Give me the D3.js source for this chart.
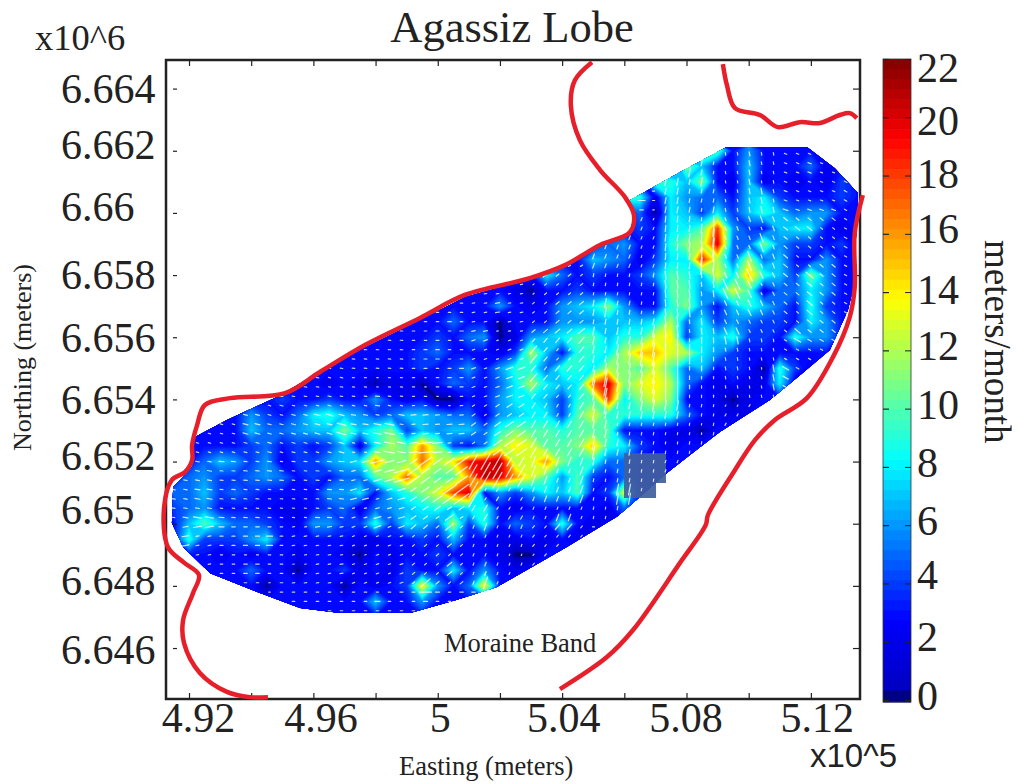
<!DOCTYPE html>
<html>
<head>
<meta charset="utf-8">
<script src="https://cdn.jsdelivr.net/npm/d3@7"></script>
<style>
  html, body { margin: 0; padding: 0; background: #fff; }
  svg { display: block; }
  text { font-family: "Liberation Serif", serif; fill: #222; }
</style>
</head>
<body>
<div id="chart"></div>
<script>
// easting / northing are kept in km, tick labels show them as x10^5 and x10^6 m
var eastTicks = [492, 494, 496, 498, 500, 502, 504, 506, 508, 510, 512];
var eastLabels = { 492: "4.92", 496: "4.96", 500: "5", 504: "5.04", 508: "5.08", 512: "5.12" };
var northTicks = [6664, 6662, 6660, 6658, 6656, 6654, 6652, 6650, 6648, 6646];
var northLabels = ["6.664", "6.662", "6.66", "6.658", "6.656", "6.654", "6.652", "6.65", "6.648", "6.646"];
var speedTicks = [0, 2, 4, 6, 8, 10, 12, 14, 16, 18, 20, 22];

// speed in meters/month, one row per 500 m of northing from 6662 km down, one column per 500 m of easting from 491.5 km
var speedRows = [
  [3,3,3,3,3,3,3,3,3,3,3,3,3,3,3,3,3,3,3,3,3,3,3,3,3,3,3,3,3,3,3,3,3,3,12,10,3,6,3,3,3,3,3,3,3],
  [3,3,3,3,3,3,3,3,3,3,3,3,3,3,3,3,3,3,3,3,3,3,3,3,3,3,3,3,3,3,3,3,3,11,7,3,3,7,3,3,3,5,2,3,3],
  [3,3,3,3,3,3,3,3,3,3,3,3,3,3,3,3,3,3,3,3,3,3,3,3,3,3,3,3,3,3,3,10,9,7,11,3,2,7,2,3,2,3,2,4,3],
  [3,3,3,3,3,3,3,3,3,3,3,3,3,3,3,3,3,3,3,3,3,3,3,3,3,3,3,3,3,10,9,2,8,6,5,5,3,7,8,4,3,3,3,4,3],
  [3,3,3,3,3,3,3,3,3,3,3,3,3,3,3,3,3,3,3,3,3,3,3,3,3,3,3,3,3,3,5,0,8,7,4,8,4,7,9,7,5,6,6,3,3],
  [3,3,3,3,3,3,3,3,3,3,3,3,3,3,3,3,3,3,3,3,3,3,3,3,3,3,3,3,3,3,4,3,8,8,10,18,6,4,3,7,8,8,3,2,3],
  [3,3,3,3,3,3,3,3,3,3,3,3,3,3,3,3,3,3,3,3,3,3,3,3,3,3,3,3,5,6,3,3,9,11,12,20,5,5,11,6,4,4,3,4,2],
  [3,3,3,3,3,3,3,3,3,3,3,3,3,3,3,3,3,3,3,3,3,3,3,3,3,3,3,7,6,5,2,4,8,8,19,12,5,12,5,7,3,3,6,3,3],
  [3,3,3,3,3,3,3,3,3,3,3,3,3,3,3,3,3,3,3,3,3,3,3,3,8,5,3,4,3,3,4,6,10,9,7,13,8,15,9,7,4,11,6,3,3],
  [3,3,3,3,3,3,3,3,3,3,3,3,3,3,3,3,3,3,3,3,3,3,2,0,3,3,4,3,3,3,3,3,10,10,6,8,13,10,2,5,5,8,6,3,3],
  [3,3,3,3,3,3,3,3,3,3,3,3,3,3,3,3,3,3,3,3,3,6,3,2,3,6,7,8,11,6,3,3,9,11,6,3,7,9,7,5,3,9,4,3,3],
  [3,3,3,3,3,3,3,3,3,3,3,3,3,3,3,3,3,3,5,3,3,0,3,3,3,6,6,6,7,7,7,8,12,5,8,4,6,5,4,4,3,8,6,3,3],
  [3,3,3,3,3,3,3,3,3,3,3,3,3,3,3,3,3,4,3,5,6,0,2,6,7,8,10,10,7,9,9,13,14,4,8,7,9,4,4,3,9,6,6,3,3],
  [3,3,3,3,3,3,3,3,3,3,3,3,3,3,3,3,4,5,3,3,3,2,4,12,7,3,9,9,8,12,15,15,13,12,8,6,4,3,3,3,3,3,3,3,3],
  [3,3,3,3,3,3,3,3,3,3,3,3,3,3,3,3,4,3,4,6,3,6,9,9,5,9,9,8,12,11,10,13,10,5,7,3,4,3,0,9,4,2,3,3,3],
  [3,3,3,3,3,3,3,3,3,3,2,3,2,0,2,2,0,3,5,4,3,5,8,12,8,7,8,17,20,11,13,14,12,5,3,2,3,2,2,8,2,3,3,3,3],
  [3,3,3,3,3,3,3,4,3,3,4,3,3,6,3,2,3,0,0,3,3,6,8,8,7,4,9,10,18,8,11,13,11,3,3,2,0,2,3,3,3,3,3,3,3],
  [3,3,3,3,3,6,4,3,5,8,9,7,6,4,5,7,7,6,5,5,2,6,7,8,8,4,10,13,9,9,9,9,9,5,3,2,2,2,3,3,3,3,3,3,3],
  [3,3,3,3,3,7,5,5,6,7,7,11,7,9,11,4,7,6,7,7,5,9,11,10,10,9,10,10,10,3,3,3,2,2,0,3,3,3,3,3,3,3,3,3,3],
  [3,3,3,3,3,4,5,3,4,3,4,7,2,8,12,10,16,11,4,3,5,12,14,13,10,10,11,15,9,8,4,3,2,3,3,3,3,3,3,3,3,3,3,3,3],
  [3,3,5,7,6,4,6,2,4,4,6,7,8,16,11,11,17,12,14,19,20,21,12,13,16,11,9,9,5,5,3,3,3,3,3,3,3,3,3,3,3,3,3,3,3],
  [3,5,6,4,4,5,6,5,3,4,3,5,5,10,12,17,12,10,10,16,21,20,16,13,10,6,10,4,3,5,3,3,3,3,3,3,3,3,3,3,3,3,3,3,3],
  [5,5,7,4,5,4,3,3,3,3,6,6,8,3,7,9,11,13,18,20,3,6,4,6,8,7,10,3,4,13,3,3,3,3,3,3,3,3,3,3,3,3,3,3,3],
  [4,5,6,3,3,3,3,2,2,3,4,5,2,5,6,7,8,9,7,8,9,3,2,3,3,3,3,3,2,5,3,3,3,3,3,3,3,3,3,3,3,3,3,3,3],
  [3,7,10,7,5,5,4,3,2,6,6,4,4,9,4,8,7,5,12,4,9,3,5,4,3,9,3,2,2,3,3,3,3,3,3,3,3,3,3,3,3,3,3,3,3],
  [3,9,4,4,4,6,8,3,3,3,3,3,2,2,3,3,4,3,7,3,3,2,2,3,2,3,2,3,3,3,3,3,3,3,3,3,3,3,3,3,3,3,3,3,3],
  [3,3,3,2,3,2,3,3,2,3,3,2,0,3,2,3,3,4,3,3,3,2,0,0,3,3,3,3,3,3,3,3,3,3,3,3,3,3,3,3,3,3,3,3,3],
  [3,3,3,3,3,5,3,3,0,3,3,4,2,3,2,4,3,3,8,3,6,3,2,3,3,3,3,3,3,3,3,3,3,3,3,3,3,3,3,3,3,3,3,3,3],
  [3,3,3,3,3,3,0,3,3,3,3,0,3,2,3,4,14,6,3,5,14,3,3,3,3,3,3,3,3,3,3,3,3,3,3,3,3,3,3,3,3,3,3,3,3],
  [3,3,3,3,3,3,3,3,3,3,3,3,3,7,3,3,6,3,3,3,3,3,3,3,3,3,3,3,3,3,3,3,3,3,3,3,3,3,3,3,3,3,3,3,3],
  [3,3,3,3,3,3,3,3,3,3,3,3,3,3,3,3,3,3,3,3,3,3,3,3,3,3,3,3,3,3,3,3,3,3,3,3,3,3,3,3,3,3,3,3,3]
];

// flow direction in degrees (0 = east, counterclockwise), blocks of 2 km from 492 km east and 6661 km north
var flowRows = [
  [0,0,0,0,0,0,0,0,80,100,-20,-30],
  [0,0,0,0,0,0,30,70,85,-70,-40,-30],
  [0,0,0,0,0,10,40,80,-85,-65,-40,-30],
  [0,0,-10,-5,0,20,50,80,90,-80,-30,-20],
  [-15,-15,-15,-10,5,35,60,80,80,60,0,0],
  [-10,-5,-5,15,35,60,70,80,70,0,0,0],
  [10,0,10,20,40,70,50,0,0,0,0,0],
  [0,0,0,0,0,0,0,0,0,0,0,0]
];

// lobe outline, [easting, northing] km
var lobeOutline = [[509.30,6662.12],[511.87,6662.12],[512.77,6661.44],[513.51,6660.64],[513.45,6659.13],[513.35,6657.52],[513.19,6656.87],[512.61,6655.59],[511.65,6654.78],[510.68,6653.98],[509.07,6652.95],[508.11,6652.21],[507.37,6651.63],[506.28,6650.67],[505.76,6650.22],[504.15,6649.25],[501.90,6647.96],[500.62,6647.55],[499.11,6647.13],[496.86,6647.13],[495.57,6647.29],[494.28,6647.77],[492.68,6648.41],[491.81,6649.25],[491.45,6650.02],[491.49,6651.18],[492.10,6651.82],[492.19,6652.79],[493.22,6653.34],[494.83,6654.08],[496.86,6655.27],[499.43,6656.55],[500.87,6657.29],[502.96,6657.87],[504.09,6658.26],[505.22,6658.90],[506.18,6659.32],[506.31,6659.93],[506.18,6660.41],[507.79,6661.31]];

// moraine band margins drawn in red
var marginWest = [[504.96,6664.85],[504.41,6664.27],[504.28,6663.47],[504.57,6662.34],[505.22,6661.38],[506.02,6660.51],[506.31,6659.93],[506.18,6659.38],[505.22,6658.97],[504.09,6658.32],[502.96,6657.90],[500.87,6657.36],[499.43,6656.62],[497.66,6655.75],[496.21,6654.88],[495.09,6654.20],[493.32,6654.04],[492.51,6653.82],[492.26,6653.17],[492.10,6652.53],[492.10,6652.05],[491.87,6651.66],[491.45,6651.41],[491.20,6650.54],[491.32,6649.25],[491.81,6648.77],[492.32,6648.35],[492.13,6647.77],[491.81,6646.90],[491.84,6646.16],[492.35,6645.20],[493.22,6644.59],[493.96,6644.42],[494.54,6644.42]];
var marginNorth = [[509.17,6664.79],[509.30,6664.11],[509.56,6663.37],[510.36,6663.15],[510.94,6662.76],[511.65,6662.92],[512.29,6662.89],[512.93,6663.15],[513.25,6663.21],[513.48,6663.05]];
var marginEast = [[513.67,6660.57],[513.41,6659.35],[513.41,6657.61],[513.25,6656.65],[512.71,6655.36],[511.87,6654.04],[510.84,6653.34],[510.20,6652.69],[509.56,6651.73],[508.69,6650.28],[508.62,6649.96],[507.79,6648.74],[506.28,6646.58],[505.44,6645.71],[503.93,6644.68]];

// pasted grey-blue patch on the original figure
var patchOutline = [[505.99,6652.27],[507.34,6652.27],[507.34,6651.31],[507.02,6651.31],[507.02,6650.83],[505.99,6650.83]];

var jetValues = [0, 0.35, 0.36, 2.75, 8.25, 11, 13.75, 16.5, 19.25, 22];
var jetColors = ["#000078", "#000090", "#0000c0", "#0000ff", "#00ffff", "#80ff80", "#ffff00", "#ff8000", "#ff0000", "#800000"];

var width = 1018, height = 784;
var plot = { left: 166, right: 860, top: 60, bottom: 699 };
var bar = { left: 883, right: 911, top: 59, bottom: 700 };

var svg = d3.select("#chart").append("svg").attr("width", width).attr("height", height);

var x = d3.scaleLinear().domain([491.26, 513.58]).range([plot.left, plot.right]);
var y = d3.scaleLinear().domain([6644.36, 6664.92]).range([plot.bottom, plot.top]);
var color = d3.scaleLinear().domain(jetValues).range(jetColors).clamp(true);
var barY = d3.scaleLinear().domain([0, 22]).range([bar.bottom, bar.top]);

var line = d3.line().x(d => x(d[0])).y(d => y(d[1]));

svg.append("clipPath").attr("id", "lobe").append("path").attr("d", line(lobeOutline) + "Z");

// speed field as filled contours, 64 levels like the colorbar
var nCols = speedRows[0].length, nRows = speedRows.length;
var levels = d3.range(64).map(i => i * 22 / 64);
var contours = d3.contours().size([nCols, nRows]).smooth(true).thresholds(levels)(speedRows.flat());
var gridPath = d3.geoPath(d3.geoTransform({
  point: function (cx, cy) { this.stream.point(x(491.5 + (cx - 0.5) * 0.5), y(6662 - (cy - 0.5) * 0.5)); }
}));

var field = svg.append("g").attr("clip-path", "url(#lobe)");
field.selectAll("path").data(contours).join("path")
  .attr("d", gridPath)
  .attr("fill", d => color(d.value + 11 / 64));

svg.append("path").attr("d", line(patchOutline) + "Z").attr("fill", "#41609f").attr("fill-opacity", 0.93);

// white flow arrows
var arrowLength = d3.scaleLinear().domain([0, 3, 6, 12, 22]).range([1.5, 2.5, 4, 10, 20]);
var arrows = [];
d3.range(491.5, 513.6, 0.386).forEach(function (e) {
  d3.range(6647.2, 6662.1, 0.3).forEach(function (n) {
    if (!d3.polygonContains(lobeOutline, [e, n])) return;
    var speed = speedRows[Math.round((6662 - n) / 0.5)][Math.round((e - 491.5) / 0.5)];
    var fr = flowRows[Math.min(7, Math.max(0, Math.round((6661 - n) / 2)))];
    var angle = fr[Math.min(11, Math.max(0, Math.round((e - 492) / 2)))];
    arrows.push({ e: e, n: n, len: arrowLength(speed), rad: angle * Math.PI / 180 });
  });
});
svg.append("g").selectAll("line").data(arrows).join("line")
  .attr("x1", d => x(d.e) - Math.cos(d.rad) * d.len / 2)
  .attr("y1", d => y(d.n) + Math.sin(d.rad) * d.len / 2)
  .attr("x2", d => x(d.e) + Math.cos(d.rad) * d.len / 2)
  .attr("y2", d => y(d.n) - Math.sin(d.rad) * d.len / 2)
  .attr("stroke", "#fff").attr("stroke-width", 1.2).attr("stroke-opacity", 0.8).attr("stroke-linecap", "round");

// frame and ticks
svg.append("rect").attr("x", plot.left).attr("y", plot.top)
  .attr("width", plot.right - plot.left).attr("height", plot.bottom - plot.top)
  .attr("fill", "none").attr("stroke", "#222").attr("stroke-width", 2.5);

function cleanAxis(g) { g.select(".domain").remove(); g.selectAll("line").attr("stroke", "#222").attr("stroke-width", 1.2); }

svg.append("g").attr("transform", "translate(0," + plot.bottom + ")")
  .call(d3.axisTop(x).tickValues(eastTicks).tickSize(6).tickFormat("")).call(cleanAxis);
svg.append("g").attr("transform", "translate(0," + plot.top + ")")
  .call(d3.axisBottom(x).tickValues(eastTicks).tickSize(6).tickFormat("")).call(cleanAxis);
svg.append("g").attr("transform", "translate(" + plot.right + ",0)")
  .call(d3.axisLeft(y).tickValues(northTicks).tickSize(7).tickFormat("")).call(cleanAxis);

// x labels sit a little off their ticks in the original
var xLabelShift = { 492: 9, 496: 7, 500: 2, 504: 1, 508: -1, 512: 6 };
var xAxis = svg.append("g").attr("transform", "translate(0," + plot.bottom + ")")
  .call(d3.axisBottom(x).tickValues(eastTicks.filter(d => eastLabels[d])).tickSize(0).tickFormat(d => eastLabels[d]));
xAxis.select(".domain").remove();
xAxis.selectAll("text").attr("font-family", "Liberation Serif").attr("font-size", 42).attr("fill", "#222")
  .attr("y", 33).attr("dy", 0).attr("dx", d => xLabelShift[d]);

// y labels, same thing
var yLabelShift = [14, 8, 8, 13, 14, 14, 8, 0, 9, 15];
var yAxis = svg.append("g").attr("transform", "translate(177,0)")
  .call(d3.axisLeft(y).tickValues(northTicks).tickSize(4).tickFormat((d, i) => northLabels[i]));
yAxis.select(".domain").remove();
yAxis.selectAll("line").attr("stroke", "#222").attr("stroke-width", 1.2);
yAxis.selectAll("text").attr("font-family", "Liberation Serif").attr("font-size", 42).attr("fill", "#222")
  .attr("text-anchor", "start").attr("x", -116).attr("dy", 0).attr("y", (d, i) => yLabelShift[i]);

// red margins go over the frame
[marginWest, marginNorth, marginEast].forEach(function (m) {
  svg.append("path").attr("d", d3.line().curve(d3.curveCatmullRom).x(d => x(d[0])).y(d => y(d[1]))(m))
    .attr("fill", "none").attr("stroke", "#e61f2b").attr("stroke-width", 4.5);
});

// colorbar, the lowest band runs on to the bottom edge
var bands = d3.range(64);
svg.append("g").selectAll("rect").data(bands).join("rect")
  .attr("x", bar.left).attr("width", bar.right - bar.left)
  .attr("y", d => barY((d + 1) * 22 / 64))
  .attr("height", d => barY(d * 22 / 64) - barY((d + 1) * 22 / 64) + (d == 0 ? 2.5 : 0.5))
  .attr("fill", d => color((d + 0.5) * 22 / 64));
svg.append("rect").attr("x", bar.left).attr("y", bar.top).attr("width", bar.right - bar.left).attr("height", 643)
  .attr("fill", "none").attr("stroke", "#333").attr("stroke-width", 0.8);

var barShift = [-5, -5, -9, -5, -4, -4, -5, -3, -5, -2, 3, 8];
var barAxis = svg.append("g").attr("transform", "translate(" + bar.right + ",0)")
  .call(d3.axisLeft(barY).tickValues(speedTicks).tickSize(6).tickFormat(d => d));
barAxis.select(".domain").remove();
barAxis.selectAll("line").attr("stroke", "#222").attr("stroke-width", 1);
barAxis.selectAll("text").attr("font-family", "Liberation Serif").attr("font-size", 42).attr("fill", "#222")
  .attr("text-anchor", "start").attr("x", 6).attr("dy", 14).attr("y", (d, i) => barShift[i]);
svg.append("g").attr("transform", "translate(" + bar.left + ",0)")
  .call(d3.axisRight(barY).tickValues(speedTicks).tickSize(6).tickFormat("")).call(cleanAxis);

// titles and notes
svg.append("text").attr("x", 512).attr("y", 42).attr("text-anchor", "middle").attr("font-size", 44.5).text("Agassiz Lobe");
svg.append("text").attr("x", 35).attr("y", 50).attr("font-size", 36.5).text("x10^6");
svg.append("text").attr("x", 810).attr("y", 767).attr("font-size", 33).style("font-family", "Liberation Sans").text("x10^5");
svg.append("text").attr("x", 444).attr("y", 652).attr("font-size", 26.5).text("Moraine Band");
svg.append("text").attr("x", 399).attr("y", 775).attr("font-size", 26.5).text("Easting (meters)");
svg.append("text").attr("transform", "translate(31,451) rotate(-90)").attr("font-size", 26).text("Northing (meters)");
svg.append("text").attr("transform", "translate(985,240) rotate(90)").attr("font-size", 37).text("meters/month");
</script>
</body>
</html>
